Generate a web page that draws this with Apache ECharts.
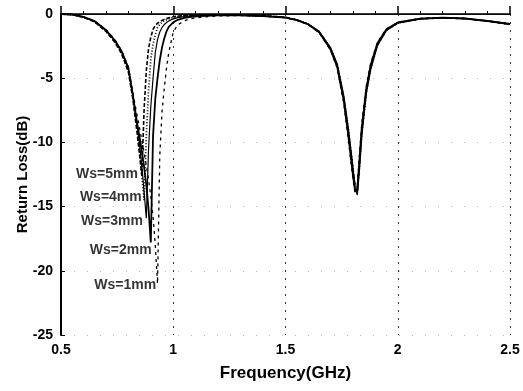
<!DOCTYPE html>
<html>
<head>
<meta charset="utf-8">
<script src="https://cdn.jsdelivr.net/npm/echarts@6/dist/echarts.min.js"></script>
<style>
html, body { margin: 0; padding: 0; background: #fff; }
#main { width: 523px; height: 391px; }
</style>
</head>
<body>
<div id="main"></div>
<script>
// frequency grid (GHz)
var freq = [0.5, 0.55, 0.6, 0.65, 0.7, 0.74, 0.77, 0.8, 0.82, 0.84,
	0.85, 0.86, 0.87, 0.88, 0.89, 0.9, 0.91, 0.92, 0.93, 0.94,
	0.95, 0.96, 0.97, 0.98, 1.0, 1.02, 1.05, 1.08, 1.12, 1.2,
	1.3, 1.4, 1.5, 1.55, 1.6, 1.65, 1.7, 1.73, 1.76, 1.78,
	1.8, 1.81, 1.82, 1.83, 1.84, 1.86, 1.88, 1.91, 1.95, 2.0,
	2.1, 2.2, 2.3, 2.4, 2.5];

// return loss (dB) for each slot width
var ws5 = [0, -0.05, -0.25, -0.62, -1.35, -2.2, -3.1, -4.5, -6.6, -9.4,
	-11.0, -12.6, -7.5, -4.4, -2.7, -1.8, -1.2, -0.9, -0.72, -0.6,
	-0.5, -0.42, -0.36, -0.3, -0.22, -0.17, -0.12, -0.1, -0.08, -0.06,
	-0.08, -0.13, -0.25, -0.45, -0.78, -1.4, -2.7, -4.0, -6.7, -9.3,
	-12.2, -13.3, -13.5, -11.5, -9.0, -5.9, -4.0, -2.3, -1.2, -0.68,
	-0.37, -0.3, -0.36, -0.56, -0.8];
var ws4 = [0, -0.05, -0.25, -0.6, -1.3, -2.15, -3.0, -4.4, -6.5, -9.0,
	-10.6, -12.5, -14.5, -9.5, -6.0, -3.5, -2.4, -1.6, -1.05, -0.8,
	-0.65, -0.52, -0.45, -0.38, -0.27, -0.2, -0.14, -0.11, -0.09, -0.07,
	-0.09, -0.14, -0.26, -0.46, -0.76, -1.38, -2.65, -3.9, -6.5, -9.0,
	-12.0, -13.5, -13.9, -11.8, -9.3, -6.1, -4.2, -2.4, -1.25, -0.7,
	-0.38, -0.3, -0.35, -0.55, -0.8];
var ws3 = [0, -0.05, -0.24, -0.58, -1.28, -2.1, -2.95, -4.3, -6.4, -8.8,
	-10.2, -11.8, -13.8, -15.9, -10.5, -7.2, -5.0, -3.0, -2.0, -1.4,
	-1.05, -0.82, -0.66, -0.55, -0.38, -0.28, -0.2, -0.15, -0.11, -0.08,
	-0.1, -0.15, -0.27, -0.47, -0.77, -1.35, -2.6, -3.85, -6.4, -8.9,
	-11.8, -13.6, -14.1, -12.0, -9.5, -6.2, -4.3, -2.45, -1.28, -0.72,
	-0.39, -0.31, -0.36, -0.56, -0.82];
var ws2 = [0, -0.04, -0.23, -0.56, -1.25, -2.05, -2.9, -4.2, -6.3, -8.6,
	-9.6, -10.7, -11.9, -13.3, -15.2, -17.8, -9.5, -6.6, -5.0, -3.6,
	-2.6, -1.9, -1.35, -1.0, -0.65, -0.45, -0.3, -0.22, -0.16, -0.1,
	-0.11, -0.16, -0.28, -0.48, -0.8, -1.42, -2.75, -4.1, -6.8, -9.5,
	-12.5, -13.8, -13.7, -11.2, -8.8, -5.8, -3.95, -2.25, -1.18, -0.66,
	-0.36, -0.29, -0.35, -0.54, -0.78];
var ws1 = [0, -0.04, -0.22, -0.55, -1.22, -2.0, -2.85, -4.1, -6.1, -8.0,
	-8.9, -9.8, -10.8, -11.8, -12.9, -14.2, -15.8, -18.0, -21.0, -11.0,
	-7.6, -5.8, -4.2, -3.0, -1.4, -0.85, -0.52, -0.36, -0.26, -0.15,
	-0.12, -0.17, -0.3, -0.5, -0.82, -1.45, -2.8, -4.2, -7.0, -9.8,
	-12.8, -14.0, -13.4, -10.8, -8.5, -5.6, -3.8, -2.2, -1.15, -0.64,
	-0.35, -0.28, -0.34, -0.53, -0.76];

// annotation text and where it sits (data units)
var labelText = ["Ws=5mm", "Ws=4mm", "Ws=3mm", "Ws=2mm", "Ws=1mm"];
var labelX = [0.705, 0.722, 0.727, 0.766, 0.786];
var labelY = [-12.5, -14.25, -16.1, -18.4, -21.1];

function pairs(xs, ys) {
	var out = [];
	for (var i = 0; i < xs.length; i++) {
		out.push([xs[i], ys[i]]);
	}
	return out;
}

function curve(name, values, type, width) {
	return {
		name: name,
		type: 'line',
		data: pairs(freq, values),
		symbol: 'none',
		silent: true,
		lineStyle: { color: '#000', width: width, type: type }
	};
}

var labelData = [];
for (var i = 0; i < labelText.length; i++) {
	labelData.push({ value: [labelX[i], labelY[i]], name: labelText[i] });
}

var font = 'Liberation Sans, Arial, sans-serif';
var chart = echarts.init(document.getElementById('main'));
chart.setOption({
	animation: false,
	backgroundColor: '#fff',
	grid: { left: 61, right: 13, top: 14, bottom: 56 },
	xAxis: [{
		type: 'value',
		min: 0.5,
		max: 2.5,
		interval: 0.5,
		name: 'Frequency(GHz)',
		nameLocation: 'middle',
		nameGap: 30,
		nameTextStyle: { fontFamily: font, fontWeight: 'bold', fontSize: 17, color: '#000' },
		axisLine: { lineStyle: { color: '#222', width: 1 } },
		axisTick: { inside: true, length: 8, lineStyle: { color: '#000', width: 1.5 } },
		minorTick: { show: true, splitNumber: 5, length: 3, lineStyle: { color: '#000' } },
		axisLabel: { fontFamily: font, fontWeight: 'bold', fontSize: 14, color: '#000', margin: 8 },
		splitLine: { show: true, lineStyle: { color: '#333', type: [2, 6], width: 1 } }
	}, {
		type: 'value',
		position: 'top',
		min: 0.5,
		max: 2.5,
		axisLine: { show: true, lineStyle: { color: '#000', width: 1.5 } },
		axisTick: { show: false },
		axisLabel: { show: false },
		splitLine: { show: false }
	}],
	yAxis: {
		type: 'value',
		min: -25,
		max: 0,
		interval: 5,
		name: 'Return Loss(dB)',
		nameLocation: 'middle',
		nameGap: 31,
		nameMoveOverlap: false,
		nameTextStyle: { fontFamily: font, fontWeight: 'bold', fontSize: 15, color: '#000' },
		axisLine: { show: true, lineStyle: { color: '#000', width: 2 } },
		axisTick: { show: true, inside: true, length: 4, lineStyle: { color: '#000' } },
		axisLabel: { fontFamily: font, fontWeight: 'bold', fontSize: 14, color: '#000', margin: 8 },
		splitLine: { show: true, lineStyle: { color: '#bbb', type: [1, 12], width: 1 } }
	},
	series: [
		curve('Ws=5mm', ws5, [4, 2], 1.6),
		curve('Ws=4mm', ws4, [1, 2], 1.8),
		curve('Ws=3mm', ws3, 'solid', 1.2),
		curve('Ws=2mm', ws2, 'solid', 1.8),
		curve('Ws=1mm', ws1, [3, 4], 1.3),
		{
			type: 'scatter',
			data: labelData,
			symbolSize: 0,
			silent: true,
			label: {
				show: true,
				position: 'inside',
				formatter: function(p) { return p.name; },
				fontFamily: font,
				fontWeight: 'bold',
				fontSize: 14,
				color: '#000'
			}
		}
	]
});
</script>
</body>
</html>
